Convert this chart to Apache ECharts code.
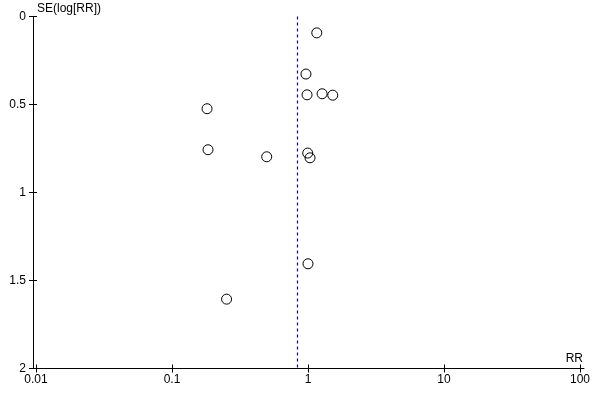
<!DOCTYPE html>
<html>
<head>
<meta charset="utf-8">
<script src="https://cdn.jsdelivr.net/npm/echarts@6/dist/echarts.min.js"></script>
<style>
html,body{margin:0;padding:0;background:#fff;}
#c{width:600px;height:400px;}
</style>
</head>
<body>
<div id="c"></div>
<script>
// Data
const rr = [1.16, 0.966, 0.984, 1.27, 1.52, 0.181, 0.184, 0.497, 0.995, 1.035, 1.0, 0.252];
const seLogRR = [0.093, 0.327, 0.445, 0.439, 0.447, 0.524, 0.757, 0.797, 0.776, 0.803, 1.405, 1.606];
const pooledRR = 0.84;
const yMin = 0, yMax = 2, yStep = 0.5;
const xMin = 0.01, xMax = 100;
const xTitle = 'RR';
const yTitle = 'SE(log[RR])';

const points = rr.map((v, i) => [v, seLogRR[i]]);
const fontFam = 'Liberation Sans, Arial, sans-serif';
const gridTop = 16.5, gridBottom = 31.5;

const chart = echarts.init(document.getElementById('c'), null, {renderer: 'canvas'});
chart.setOption({
  animation: false,
  backgroundColor: '#fff',
  grid: [
    {left: 33, right: 16, top: gridTop, bottom: gridBottom},
    {left: 36, right: 20, top: gridTop, bottom: gridBottom}
  ],
  xAxis: [
    {gridIndex: 0, type: 'value', min: 0, max: 1, position: 'bottom',
     axisLine: {show: true, onZero: false, lineStyle: {color: '#000', width: 1}},
     axisTick: {show: false}, axisLabel: {show: false}, splitLine: {show: false}},
    {gridIndex: 1, type: 'log', logBase: 10, min: xMin, max: xMax, position: 'bottom',
     axisLine: {show: false, onZero: false},
     axisTick: {show: true, inside: false, length: 4, lineStyle: {color: '#000'}},
     axisLabel: {show: true, margin: 5, color: '#000', fontSize: 12, fontFamily: fontFam},
     splitLine: {show: false}},
    {gridIndex: 1, type: 'log', logBase: 10, min: xMin, max: xMax, position: 'bottom',
     axisLine: {show: false, onZero: false},
     axisTick: {show: true, inside: true, length: 4, lineStyle: {color: '#000'}},
     axisLabel: {show: false}, splitLine: {show: false}}
  ],
  yAxis: [
    {gridIndex: 0, type: 'value', inverse: true, min: yMin, max: yMax, interval: yStep, position: 'left',
     axisLine: {show: true, onZero: false, lineStyle: {color: '#000', width: 1}},
     axisTick: {show: true, inside: false, length: 4, lineStyle: {color: '#000'}},
     axisLabel: {show: true, margin: 7, color: '#000', fontSize: 12, fontFamily: fontFam},
     splitLine: {show: false}},
    {gridIndex: 0, type: 'value', inverse: true, min: yMin, max: yMax, interval: yStep, position: 'left',
     axisLine: {show: false, onZero: false},
     axisTick: {show: true, inside: true, length: 4, lineStyle: {color: '#000'}},
     axisLabel: {show: false}, splitLine: {show: false}},
    {gridIndex: 1, type: 'value', inverse: true, min: yMin, max: yMax, show: false}
  ],
  graphic: [
    {type: 'text', left: 37, top: 3,
     style: {text: yTitle, fill: '#000', font: '12px ' + fontFam}},
    {type: 'text', right: 17, top: 353,
     style: {text: xTitle, fill: '#000', font: '12px ' + fontFam}}
  ],
  series: [{
    type: 'scatter',
    xAxisIndex: 1,
    yAxisIndex: 2,
    data: points,
    symbol: 'circle',
    symbolSize: 10,
    itemStyle: {color: 'rgba(0,0,0,0)', borderColor: '#000', borderWidth: 1, opacity: 1},
    emphasis: {disabled: true},
    markLine: {
      silent: true,
      symbol: ['none', 'none'],
      label: {show: false},
      lineStyle: {color: '#0000FF', type: [3, 3], width: 1.2},
      data: [[{coord: [pooledRR, yMin]}, {coord: [pooledRR, yMax]}]]
    }
  }]
});
</script>
</body>
</html>
